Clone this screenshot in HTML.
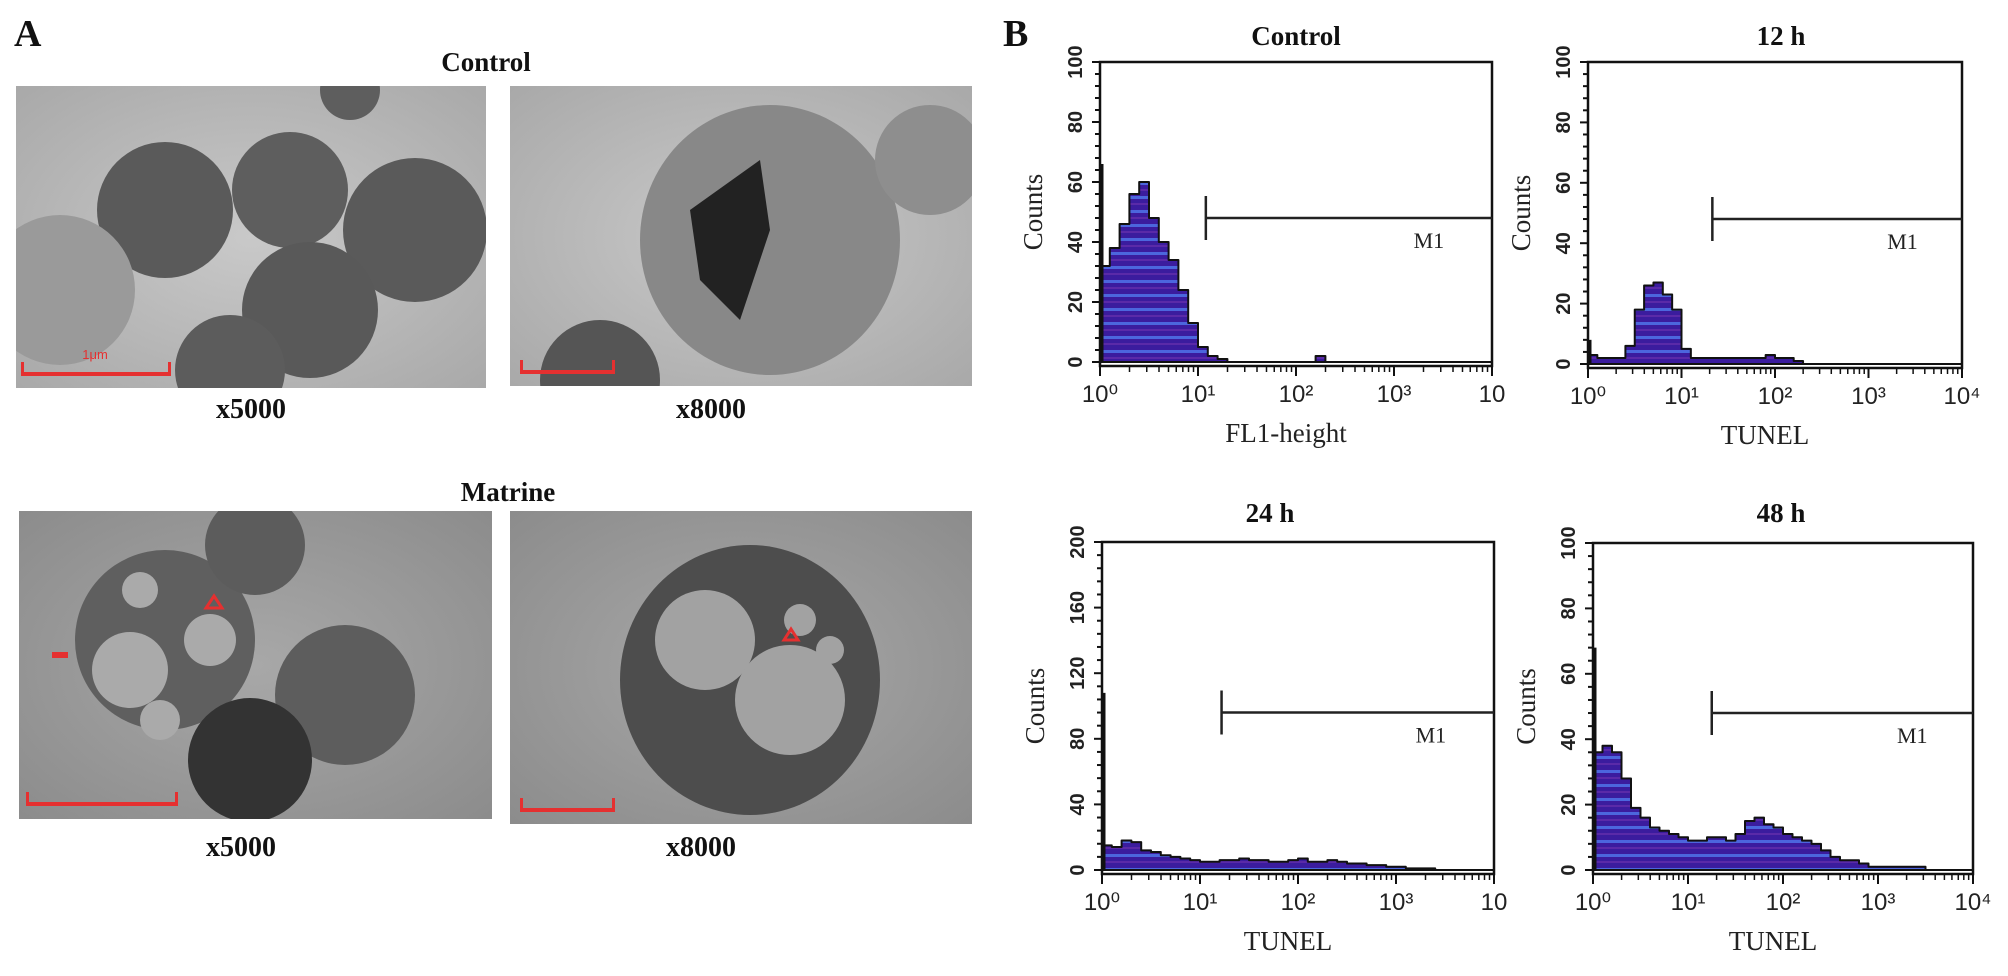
<!DOCTYPE html>
<html><head><meta charset="utf-8"><style>
html,body{margin:0;padding:0;background:#fff;}
svg{display:block;}
</style></head><body>
<svg id="fig" width="2008" height="976" viewBox="0 0 2008 976" xmlns="http://www.w3.org/2000/svg">
<defs>
<pattern id="stripes" width="10" height="14" patternUnits="userSpaceOnUse">
<rect width="10" height="14" fill="#3b1c9e"/>
<rect y="0" width="10" height="3" fill="#4c66dd"/>
<rect y="7" width="10" height="2" fill="#5a2aa8"/>
</pattern>
<radialGradient id="bg1" cx="50%" cy="50%" r="70%"><stop offset="0" stop-color="#c9c9c9"/><stop offset="1" stop-color="#a9a9a9"/></radialGradient>
<radialGradient id="bg2" cx="50%" cy="50%" r="70%"><stop offset="0" stop-color="#a8a8a8"/><stop offset="1" stop-color="#8c8c8c"/></radialGradient>
<clipPath id="c1"><rect x="16" y="86" width="470" height="302"/></clipPath>
<clipPath id="c2"><rect x="510" y="86" width="462" height="300"/></clipPath>
<clipPath id="c3"><rect x="19" y="511" width="473" height="308"/></clipPath>
<clipPath id="c4"><rect x="510" y="511" width="462" height="313"/></clipPath>
</defs>
<g font-family="Liberation Serif, serif" font-weight="bold" fill="#111">
<text x="14" y="46" font-size="38">A</text>
<text x="486" y="71" font-size="27" text-anchor="middle">Control</text>
<text x="251" y="418" font-size="28" text-anchor="middle">x5000</text>
<text x="711" y="418" font-size="28" text-anchor="middle">x8000</text>
<text x="508" y="501" font-size="27" text-anchor="middle">Matrine</text>
<text x="241" y="856" font-size="28" text-anchor="middle">x5000</text>
<text x="701" y="856" font-size="28" text-anchor="middle">x8000</text>
<text x="1003" y="46" font-size="38">B</text>
</g>
<g clip-path="url(#c1)">
<rect x="16" y="86" width="470" height="302" fill="url(#bg1)"/>
<circle cx="165" cy="210" r="68" fill="#5a5a5a"/>
<circle cx="290" cy="190" r="58" fill="#5e5e5e"/>
<circle cx="415" cy="230" r="72" fill="#5a5a5a"/>
<circle cx="310" cy="310" r="68" fill="#595959"/>
<circle cx="60" cy="290" r="75" fill="#9a9a9a"/>
<circle cx="230" cy="370" r="55" fill="#5c5c5c"/>
<circle cx="350" cy="90" r="30" fill="#5e5e5e"/>
<rect x="21" y="372" width="150" height="4" fill="#e53030"/><rect x="21" y="362" width="3" height="14" fill="#e53030"/><rect x="168" y="362" width="3" height="14" fill="#e53030"/>
<text x="95" y="359" font-size="13" fill="#e53030" font-family="Liberation Sans, sans-serif" text-anchor="middle">1μm</text>
</g>
<g clip-path="url(#c2)">
<rect x="510" y="86" width="462" height="300" fill="url(#bg1)"/>
<ellipse cx="770" cy="240" rx="130" ry="135" fill="#888"/>
<path d="M690 210 L760 160 L770 230 L740 320 L700 280 Z" fill="#222"/>
<circle cx="930" cy="160" r="55" fill="#8e8e8e"/>
<circle cx="600" cy="380" r="60" fill="#555"/>
<rect x="520" y="370" width="95" height="4" fill="#e53030"/><rect x="520" y="360" width="3" height="14" fill="#e53030"/><rect x="612" y="360" width="3" height="14" fill="#e53030"/>
</g>
<g clip-path="url(#c3)">
<rect x="19" y="511" width="473" height="308" fill="url(#bg2)"/>
<circle cx="165" cy="640" r="90" fill="#5f5f5f"/>
<circle cx="130" cy="670" r="38" fill="#aaa"/><circle cx="210" cy="640" r="26" fill="#aaa"/><circle cx="160" cy="720" r="20" fill="#aaa"/><circle cx="140" cy="590" r="18" fill="#aaa"/>
<circle cx="345" cy="695" r="70" fill="#5d5d5d"/>
<circle cx="250" cy="760" r="62" fill="#333"/>
<circle cx="255" cy="545" r="50" fill="#5c5c5c"/>
<path d="M206 608 L214 596 L222 608 Z" fill="none" stroke="#e53030" stroke-width="3"/>
<rect x="52" y="652" width="16" height="6" fill="#e53030"/>
<rect x="26" y="802" width="152" height="4" fill="#e53030"/><rect x="26" y="792" width="3" height="14" fill="#e53030"/><rect x="175" y="792" width="3" height="14" fill="#e53030"/>
</g>
<g clip-path="url(#c4)">
<rect x="510" y="511" width="462" height="313" fill="url(#bg2)"/>
<ellipse cx="750" cy="680" rx="130" ry="135" fill="#4d4d4d"/>
<circle cx="705" cy="640" r="50" fill="#a2a2a2"/>
<circle cx="790" cy="700" r="55" fill="#a2a2a2"/>
<circle cx="800" cy="620" r="16" fill="#a2a2a2"/><circle cx="830" cy="650" r="14" fill="#a2a2a2"/>
<path d="M784 640 L791 629 L798 640 Z" fill="none" stroke="#e53030" stroke-width="3"/>
<rect x="520" y="808" width="95" height="4" fill="#e53030"/><rect x="520" y="798" width="3" height="14" fill="#e53030"/><rect x="612" y="798" width="3" height="14" fill="#e53030"/>
</g>
<g id="plots"></g>
</svg>
<script>
// Histogram counts per log bin (10 bins per decade, from 10^0)
const controlCounts = [32,38,46,56,60,48,40,34,24,13,5,2,1,0,0,0,0,0,0,0,0,0,2,0,0,0,0,0,0,0,0,0,0,0,0,0,0,0,0,0];
const h12Counts = [3,2,2,2,6,18,26,27,23,18,5,2,2,2,2,2,2,2,2,3,2,2,1,0,0,0,0,0,0,0,0,0,0,0,0,0,0,0,0,0];
const h24Counts = [15,14,18,17,12,11,9,8,7,6,5,5,6,6,7,6,6,5,5,6,7,5,5,6,5,4,4,3,3,2,2,1,1,1,0,0,0,0,0,0];
const h48Counts = [36,38,36,28,19,16,13,12,11,10,9,9,10,10,9,11,15,16,14,13,11,10,9,8,6,4,3,3,2,1,1,1,1,1,1,0,0,0,0,0];
const edgeSpikes = [66,8,108,68];
const m1Levels = [48,48,96,48];
const m1StartLog = [1.08,1.33,1.22,1.25];
const yTicksSmall = [0,20,40,60,80,100];
const yTicksLarge = [0,40,80,120,160,200];
const xDecades = [0,1,2,3,4];
const plotTitles = ['Control','12 h','24 h','48 h'];
const xTitles = ['FL1-height','TUNEL','TUNEL','TUNEL'];

const NS='http://www.w3.org/2000/svg';
const root=document.getElementById('plots');
function mk(tag,attrs,parent){const e=document.createElementNS(NS,tag);for(const k in attrs)e.setAttribute(k,attrs[k]);(parent||root).appendChild(e);return e;}

const layouts=[
 {l:1100,r:1492,t:62,b:362,ymax:100,ticks:yTicksSmall,data:controlCounts,tx:1296,ty:45,lastLabel:'10'},
 {l:1588,r:1962,t:62,b:364,ymax:100,ticks:yTicksSmall,data:h12Counts,tx:1781,ty:45,lastLabel:'10⁴'},
 {l:1102,r:1494,t:542,b:870,ymax:200,ticks:yTicksLarge,data:h24Counts,tx:1270,ty:522,lastLabel:'10'},
 {l:1593,r:1973,t:543,b:870,ymax:100,ticks:yTicksSmall,data:h48Counts,tx:1781,ty:522,lastLabel:'10⁴'}
];
const names=['control','12h','24h','48h'];
layouts.forEach((p,i)=>{
 const g=mk('g',{});
 
 
 const xs=v=>p.l+(v/4)*(p.r-p.l);
 const ys=v=>p.b-(v/p.ymax)*(p.b-p.t);
 const tt=mk('text',{x:p.tx,y:p.ty,'font-size':27,'font-weight':'bold','font-family':'Liberation Serif, serif','text-anchor':'middle',fill:'#111'},g);
 tt.textContent=plotTitles[i];
 
 
 let d='M'+xs(0)+' '+ys(0);
 p.data.forEach((v,k)=>{d+=' L'+xs(k/10)+' '+ys(v)+' L'+xs((k+1)/10)+' '+ys(v);});
 d+=' L'+xs(4)+' '+ys(0)+' Z';
 const area=mk('path',{d:d,fill:'url(#stripes)',stroke:'#111','stroke-width':2,'stroke-linejoin':'round'},g);
 
 
 const sp=mk('line',{x1:p.l+2,x2:p.l+2,y1:ys(0),y2:ys(edgeSpikes[i]),stroke:'#111','stroke-width':3},g);
 
 
 const fr=mk('rect',{x:p.l,y:p.t,width:p.r-p.l,height:p.b-p.t+4,fill:'none',stroke:'#111','stroke-width':2.5},g);
 
 
 const step=(p.ticks[1]-p.ticks[0])/5;
 for(let v=0;v<=p.ymax+0.001;v+=step){
  const major=p.ticks.some(t=>Math.abs(t-v)<0.01);
  mk('line',{x1:p.l-(major?8:5),x2:p.l,y1:ys(v),y2:ys(v),stroke:'#111','stroke-width':2},g);
 }
 p.ticks.forEach(t=>{
  const y=ys(t);const x=p.l-18;
  const tl=mk('text',{x:x,y:y,'font-size':20,'font-family':'Liberation Sans, sans-serif','font-weight':'bold','text-anchor':'middle',fill:'#222',transform:'rotate(-90 '+x+' '+y+')'},g);
  tl.textContent=t;
  
  
 });
 xDecades.forEach((dd,k)=>{
  mk('line',{x1:xs(dd),x2:xs(dd),y1:p.b+4,y2:p.b+14,stroke:'#111','stroke-width':2},g);
  if(dd<4){for(let m=2;m<10;m++){const xx=xs(dd+Math.log10(m));mk('line',{x1:xx,x2:xx,y1:p.b+4,y2:p.b+10,stroke:'#111','stroke-width':1.5},g);}}
  const lab=mk('text',{x:xs(dd),y:p.b+40,'font-size':24,'font-family':'Liberation Sans, sans-serif','text-anchor':'middle',fill:'#222'},g);
  lab.textContent=dd===4?p.lastLabel:'10'+['⁰','¹','²','³'][dd];
  
  
 });
 const yt=mk('text',{x:0,y:0,'font-size':27,'font-family':'Liberation Serif, serif','text-anchor':'middle',fill:'#222',transform:'translate('+(p.l-58)+' '+((p.t+p.b)/2)+') rotate(-90)'},g);
 yt.textContent='Counts';
 
 
 const xt=mk('text',{x:(p.l+p.r)/2-10,y:p.b+80,'font-size':27,'font-family':'Liberation Serif, serif','text-anchor':'middle',fill:'#222'},g);
 xt.textContent=xTitles[i];
 
 
 const gy=ys(m1Levels[i]);const gx=xs(m1StartLog[i]);
 const gate=mk('path',{d:'M'+gx+' '+(gy-22)+' L'+gx+' '+(gy+22)+' M'+gx+' '+gy+' L'+p.r+' '+gy,fill:'none',stroke:'#222','stroke-width':2.5},g);
 
 
 const ml=mk('text',{x:p.l+(p.r-p.l)*0.8,y:gy+30,'font-size':22,'font-family':'Liberation Serif, serif',fill:'#222'},g);
 ml.textContent='M1';
 
 
});
</script>
</body></html>
